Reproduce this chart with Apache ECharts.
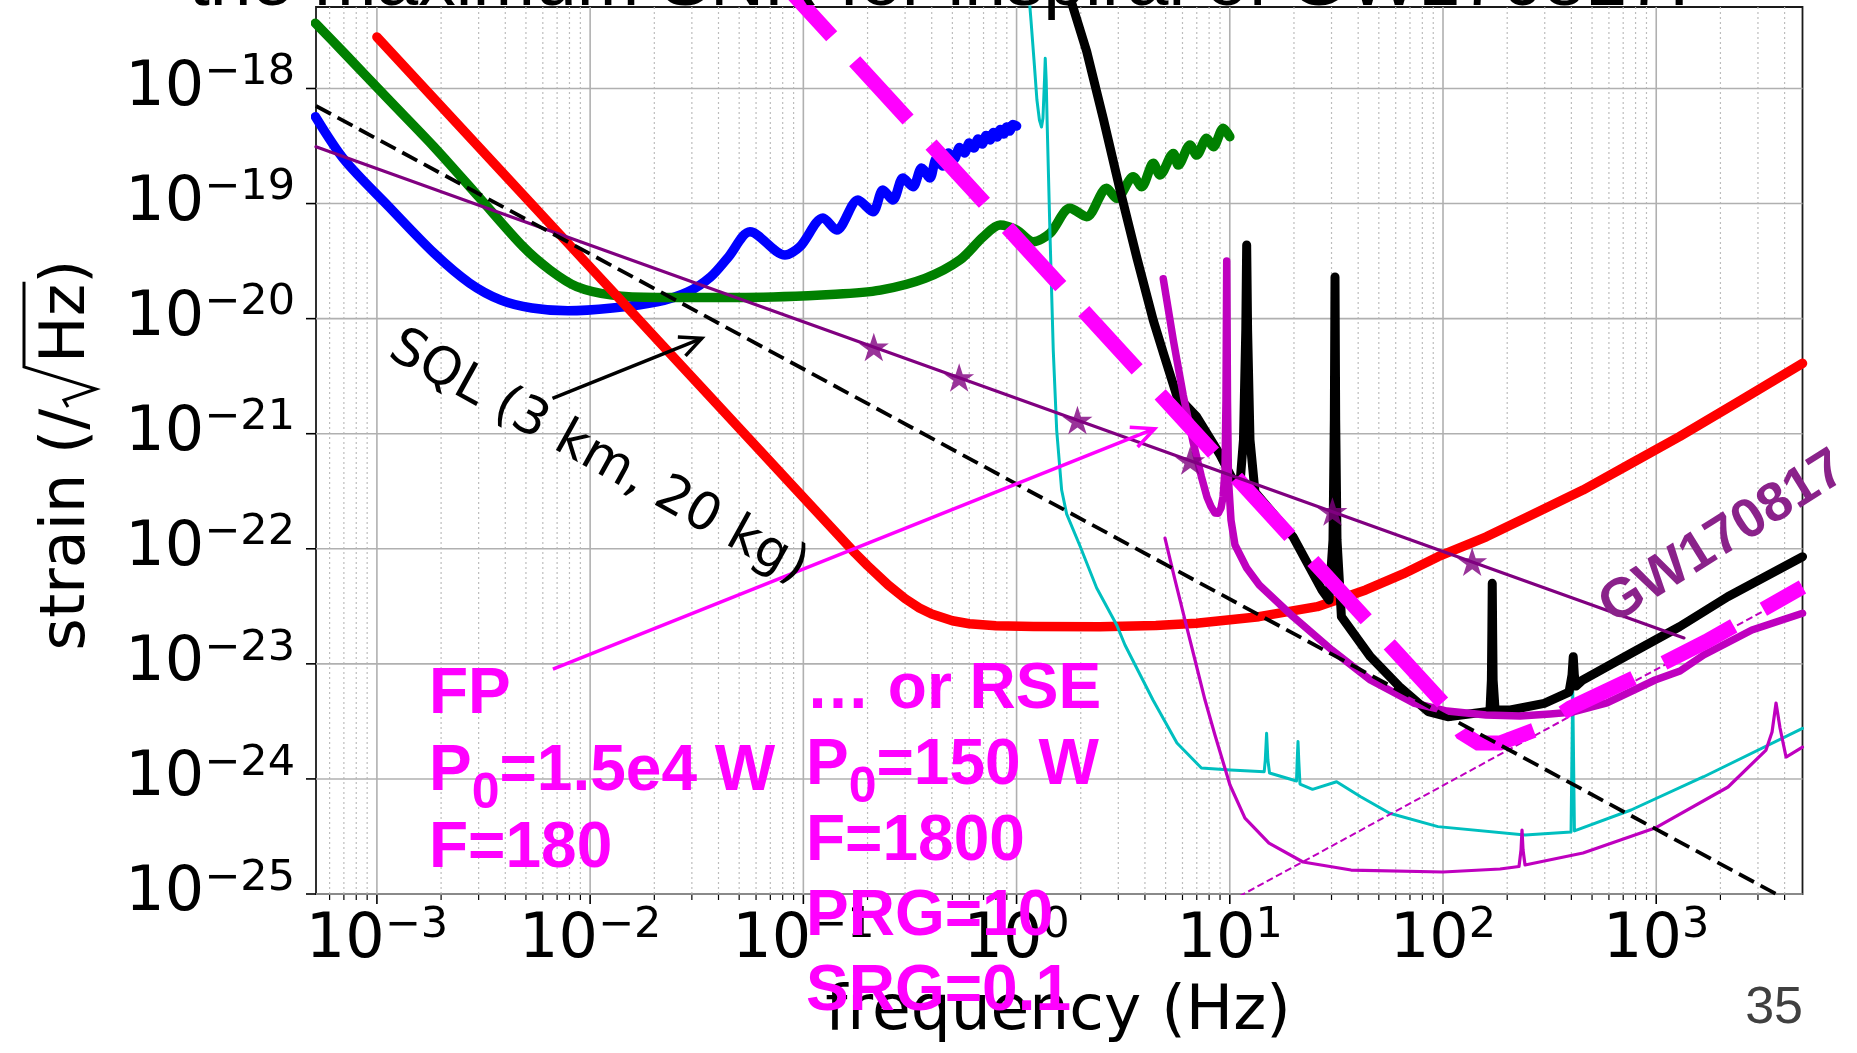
<!DOCTYPE html>
<html>
<head>
<meta charset="utf-8">
<script src="https://cdn.jsdelivr.net/npm/echarts@6/dist/echarts.min.js"></script>
<style>
  html, body { margin: 0; padding: 0; background: #ffffff; }
  #chart { width: 1857px; height: 1053px; }
</style>
</head>
<body>
<div id="chart"></div>
<script>
// ---------------- axis ranges and ticks ----------------
const xRange = [5.18e-4, 4853];          // frequency (Hz)
const yRange = [1e-25, 5.108e-18];       // strain (/sqrt(Hz))
const xMajor = [1e-3, 1e-2, 1e-1, 1, 10, 100, 1000];
const yMajor = [1e-25, 1e-24, 1e-23, 1e-22, 1e-21, 1e-20, 1e-19, 1e-18];
const xDecades = [1e-4, 1e-3, 1e-2, 1e-1, 1, 10, 100, 1000];
const minorSteps = [2, 3, 4, 5, 6, 7, 8, 9];

// ---------------- noise curves ----------------
const blueF = [5.15e-4, 7.05e-4, 1.138e-3, 1.851e-3, 2.719e-3, 3.816e-3, 5.33e-3, 7.87e-3, 1.272e-2, 2.06e-2,
  2.875e-2, 3.675e-2, 4.46e-2, 5.62e-2, 8.20e-2, 9.64e-2, 0.1236, 0.1433, 0.1804, 0.2121,
  0.2362, 0.2632, 0.2932, 0.3267, 0.3588, 0.3925, 0.42, 0.45, 0.48, 0.51,
  0.54, 0.57, 0.60, 0.63, 0.66, 0.69, 0.72, 0.75, 0.78, 0.81,
  0.84, 0.87, 0.90, 0.93, 0.96, 1.0];
const blueH = [5.69e-19, 2.39e-19, 9.39e-20, 3.72e-20, 2.04e-20, 1.45e-20, 1.238e-20, 1.17e-20, 1.238e-20, 1.40e-20,
  1.71e-20, 2.31e-20, 3.45e-20, 5.69e-20, 3.57e-20, 4.22e-20, 7.49e-20, 5.89e-20, 1.074e-19, 8.49e-20,
  1.312e-19, 1.074e-19, 1.667e-19, 1.40e-19, 2.04e-19, 1.667e-19, 2.44e-19, 2.12e-19, 2.75e-19, 2.44e-19,
  3.07e-19, 2.75e-19, 3.36e-19, 3.04e-19, 3.64e-19, 3.29e-19, 3.90e-19, 3.57e-19, 4.15e-19, 3.79e-19,
  4.40e-19, 4.02e-19, 4.63e-19, 4.27e-19, 4.87e-19, 4.72e-19];

const greenF = [5.15e-4, 7.05e-4, 1.14e-3, 1.85e-3, 2.995e-3, 4.85e-3, 6.48e-3, 8.65e-3, 1.272e-2, 2.06e-2,
  5.38e-2, 0.1417, 0.2297, 0.372, 0.5426, 0.698, 0.836, 1.00, 1.198, 1.435,
  1.78, 2.132, 2.646, 2.948, 3.527, 3.862, 4.377, 4.706, 5.433, 5.734,
  6.508, 6.993, 7.79, 8.37, 9.32, 10.0];
const greenH = [3.69e-18, 2.02e-18, 7.94e-19, 3.12e-19, 1.15e-19, 4.22e-20, 2.65e-20, 1.90e-20, 1.60e-20, 1.53e-20,
  1.53e-20, 1.63e-20, 1.77e-20, 2.24e-20, 3.24e-20, 5.15e-20, 6.51e-20, 5.89e-20, 4.66e-20, 5.52e-20,
  9.10e-20, 7.69e-20, 1.36e-19, 1.11e-19, 1.71e-19, 1.40e-19, 2.24e-19, 1.77e-19, 2.73e-19, 2.16e-19,
  3.23e-19, 2.64e-19, 3.69e-19, 3.12e-19, 4.51e-19, 3.81e-19];

const redF = [1.0e-3, 1.85e-3, 3.81e-3, 7.13e-3, 1.27e-2, 2.06e-2, 3.34e-2, 9.38e-2, 0.1746, 0.2,
  0.25, 0.3, 0.35, 0.4, 0.5, 0.6, 0.8, 1.2, 2.46, 4.5,
  6.98, 13.7, 25.7, 43.4, 65, 94.8, 159.6, 250, 453, 750,
  1285, 2500, 4853];
const redH = [2.80e-18, 8.18e-19, 1.93e-19, 5.51e-20, 1.74e-20, 6.60e-21, 2.51e-21, 3.18e-22, 9.19e-23, 7.14e-23,
  4.84e-23, 3.69e-23, 3.06e-23, 2.71e-23, 2.37e-23, 2.23e-23, 2.14e-23, 2.11e-23, 2.10e-23, 2.15e-23,
  2.25e-23, 2.57e-23, 3.14e-23, 4.39e-23, 6.05e-23, 8.53e-23, 1.27e-22, 1.90e-22, 3.24e-22, 5.43e-22,
  9.42e-22, 1.96e-21, 4.09e-21];

const blackF = [1.737, 2.132, 2.551, 3.055, 3.659, 4.377, 4.913, 5.636, 6.987, 8.995,
  10.24, 11.16, 11.59, 11.885, 12.0, 12.12, 12.44, 13.13, 19.81, 27.07,
  29.2, 30.48, 30.92, 31.15, 31.38, 31.83, 33.38, 45.65, 62.44, 85.3,
  105.2, 159.6, 166.1, 168.6, 169.5, 170.2, 170.9, 171.8, 175.5, 207.1,
  298.4, 390, 402.7, 408.1, 413, 420.5, 452.6, 762.6, 1285, 2165, 4853];
const blackH = [7.18e-18, 2.10e-18, 5.47e-19, 1.318e-19, 3.43e-20, 9.67e-21, 4.83e-21, 2.15e-21, 1.406e-21, 6.57e-22,
  4.12e-22, 3.66e-22, 8.82e-22, 7.97e-21, 4.37e-20, 7.97e-21, 8.82e-22, 3.11e-22, 1.27e-22, 4.38e-23,
  3.59e-23, 1.19e-22, 1.315e-21, 2.30e-20, 1.315e-21, 1.19e-22, 2.57e-23, 1.153e-23, 6.33e-24, 3.84e-24,
  3.47e-24, 3.84e-24, 3.97e-24, 7.24e-24, 1.968e-23, 5.01e-23, 1.968e-23, 7.24e-24, 3.97e-24, 3.97e-24,
  4.54e-24, 5.69e-24, 8.0e-24, 1.153e-23, 8.0e-24, 6.42e-24, 7.24e-24, 1.235e-23, 2.10e-23, 3.83e-23, 8.53e-23];

const cyanF = [1.143, 1.168, 1.207, 1.246, 1.280, 1.309, 1.330, 1.352, 1.363, 1.377,
  1.392, 1.435, 1.486, 1.542, 1.627, 1.718, 1.984, 2.375, 2.948, 3.224,
  4.363, 5.652, 7.359, 10.07, 14.5, 14.67, 14.88, 15.09, 15.36, 20.55,
  20.71, 20.89, 21.06, 21.34, 24.43, 31.69, 41.11, 56.23, 94.7, 242.5,
  398.5, 405.9, 413.4, 761.7, 1669, 4853];
const cyanH = [6.49e-18, 3.94e-18, 1.77e-18, 7.94e-19, 5.32e-19, 4.63e-19, 5.54e-19, 1.186e-18, 1.83e-18, 1.186e-18,
  4.82e-19, 5.33e-20, 5.34e-21, 1.077e-21, 3.24e-22, 2.00e-22, 1.057e-22, 4.56e-23, 2.18e-23, 1.459e-23,
  4.85e-24, 2.05e-24, 1.245e-24, 1.195e-24, 1.155e-24, 1.46e-24, 2.49e-24, 1.46e-24, 1.125e-24, 9.59e-25,
  1.46e-24, 2.11e-24, 1.46e-24, 9.03e-25, 8.12e-25, 9.46e-25, 7.01e-25, 5.03e-25, 3.85e-25, 3.26e-25,
  3.46e-25, 5.93e-24, 3.53e-25, 5.37e-25, 1.045e-24, 2.75e-24];

const kagraF = [4.876, 5.433, 6.052, 6.743, 7.359, 7.816, 8.163, 8.52, 8.83, 9.094,
  9.302, 9.495, 9.598, 9.672, 9.754, 9.86, 10.13, 10.58, 12.0, 13.75,
  19.81, 30.09, 45.65, 72.8, 104.4, 159.1, 229.7, 317.7, 407.3, 587.7,
  987.2, 1293, 1669, 2811, 4853];
const kagraH = [2.22e-20, 6.52e-21, 2.15e-21, 8.32e-22, 4.23e-22, 2.82e-22, 2.33e-22, 2.05e-22, 2.04e-22, 2.26e-22,
  2.84e-22, 4.84e-22, 1.963e-21, 3.17e-20, 1.963e-21, 3.96e-22, 1.778e-22, 1.078e-22, 6.81e-23, 4.84e-23,
  2.57e-23, 1.319e-23, 7.24e-24, 4.57e-24, 3.89e-24, 3.59e-24, 3.52e-24, 3.67e-24, 3.82e-24, 4.57e-24,
  7.24e-24, 8.67e-24, 1.194e-23, 1.968e-23, 2.75e-23];

const lowF = [4.966, 5.534, 6.165, 6.868, 7.651, 8.52, 10.02, 11.78, 15.27, 22.04,
  37.03, 100, 185.1, 227.2, 232.2, 234.7, 237.3, 242.5, 453.7, 987.2,
  2172, 3273, 3493, 3647, 3807, 4063, 4853];
const lowH = [1.24e-22, 5.36e-23, 2.40e-23, 1.08e-23, 4.85e-24, 2.41e-24, 8.85e-25, 4.57e-25, 2.77e-25, 1.897e-25,
  1.615e-25, 1.553e-25, 1.649e-25, 1.733e-25, 2.41e-25, 3.60e-25, 2.41e-25, 1.787e-25, 2.27e-25, 3.74e-25,
  8.51e-25, 1.78e-24, 2.56e-24, 4.57e-24, 2.77e-24, 1.55e-24, 1.89e-24];

const rseF = [0.07631, 100, 122.8, 146.0, 185.1, 285.1, 394.2, 839.5, 1713, 4853];
const rseH = [9.13e-18, 4.57e-24, 2.51e-24, 2.05e-24, 2.05e-24, 2.77e-24, 4.13e-24, 8.0e-24, 1.563e-23, 4.65e-23];

const slopeF = [10, 4853];
const slopeH = [8.6e-26, 4.4e-23];

const sqlF = [5.18e-4, 3650];
const sqlH = [7.05e-19, 1.0e-25];

const gwF = [5.18e-4, 1349];
const gwH = [3.12e-19, 1.68e-23];
const gwStarF = [0.214, 0.538, 1.93, 6.52, 30.3, 137];
const gwStarH = [5.68e-21, 3.08e-21, 1.315e-21, 5.85e-22, 2.11e-22, 7.73e-23];

// annotation arrows: [fromF, fromH, toF, toH]
const fpArrow = [6.69e-3, 9.02e-24, 4.443, 1.105e-21];
const sqlArrow = [6.66e-3, 2.03e-21, 3.34e-2, 6.75e-21];

// ---------------- helpers ----------------
const pairs = (fs, hs) => fs.map((f, i) => [f, hs[i]]);

function curve(fs, hs, color, width, extra) {
  const s = {
    type: 'line', data: pairs(fs, hs), showSymbol: false, symbol: 'none', clip: true,
    silent: true, animation: false, z: 3,
    lineStyle: { color: color, width: width, cap: 'round', join: 'round' },
    itemStyle: { color: color }
  };
  if (extra) {
    if (extra.lineStyle) Object.assign(s.lineStyle, extra.lineStyle);
    ['z', 'smooth'].forEach(k => { if (extra[k] !== undefined) s[k] = extra[k]; });
  }
  return s;
}

function powerText(v) {
  const e = Math.log10(v);
  const r = Math.round(e);
  if (Math.abs(e - r) > 1e-6) return '';
  return '{m|10}{e|' + (r < 0 ? '\u2212' : '') + Math.abs(r) + '}';
}
const labelRich = {
  m: { fontFamily: 'DejaVu Sans', fontSize: 62, lineHeight: 74, color: '#000', fill: '#000' },
  e: { fontFamily: 'DejaVu Sans', fontSize: 43, color: '#000', fill: '#000', verticalAlign: 'top' }
};

const minorX = [];
xDecades.forEach(d => minorSteps.forEach(m => {
  const v = d * m;
  if (v > xRange[0] && v < xRange[1]) minorX.push(v);
}));

function vGrid(major) {
  return function (params, api) {
    const v = api.value(0);
    const a = api.coord([v, yRange[1]]);
    const b = api.coord([v, yRange[0]]);
    return {
      type: 'group', children: [
        { type: 'line', shape: { x1: a[0], y1: a[1], x2: b[0], y2: b[1] },
          style: { stroke: major ? '#b0b0b0' : '#bdbdbd', lineWidth: major ? 1.6 : 1.2, lineDash: major ? null : [2, 3] } },
        { type: 'line', shape: { x1: b[0], y1: b[1], x2: b[0], y2: b[1] + (major ? 10 : 6) },
          style: { stroke: '#000', lineWidth: major ? 1.6 : 1.2 } }
      ]
    };
  };
}
// horizontal decade lines, left ticks and the power-of-ten labels
function hGrid(params, api) {
  const v = api.value(1);
  const a = api.coord([xRange[0], v]);
  const b = api.coord([xRange[1], v]);
  return {
    type: 'group', children: [
      { type: 'line', shape: { x1: a[0], y1: a[1], x2: b[0], y2: b[1] }, style: { stroke: '#b0b0b0', lineWidth: 1.6 } },
      { type: 'line', shape: { x1: a[0] - 10, y1: a[1], x2: a[0], y2: a[1] }, style: { stroke: '#000', lineWidth: 1.6 } },
      { type: 'text', x: a[0] - 21, y: a[1],
        style: { text: powerText(v), rich: labelRich, align: 'right', verticalAlign: 'middle', fill: '#000' } }
    ]
  };
}
function arrowRender(color, width, headLen) {
  return function (params, api) {
    const p0 = api.coord([api.value(0), api.value(1)]);
    const p1 = api.coord([api.value(2), api.value(3)]);
    const ang = Math.atan2(p1[1] - p0[1], p1[0] - p0[0]);
    const a1 = ang + Math.PI - 0.44, a2 = ang + Math.PI + 0.44;
    return {
      type: 'group', children: [
        { type: 'line', shape: { x1: p0[0], y1: p0[1], x2: p1[0], y2: p1[1] }, style: { stroke: color, lineWidth: width } },
        { type: 'polyline', shape: { points: [
            [p1[0] + headLen * Math.cos(a1), p1[1] + headLen * Math.sin(a1)], [p1[0], p1[1]],
            [p1[0] + headLen * Math.cos(a2), p1[1] + headLen * Math.sin(a2)]] },
          style: { stroke: color, lineWidth: width, fill: null, lineJoin: 'miter' } }
      ]
    };
  };
}

const starPath = 'path://M0,-100L22.45,-30.9L95.1,-30.9L36.33,11.8L58.8,80.9L0,38.2L-58.8,80.9L-36.33,11.8L-95.1,-30.9L-22.45,-30.9Z';

// ---------------- chart ----------------
const chart = echarts.init(document.getElementById('chart'), null, { renderer: 'canvas', width: 1857, height: 1053 });

const axisCommon = {
  type: 'log', logBase: 10,
  axisLine: { show: false }, axisTick: { show: false }, splitLine: { show: false },
  minorTick: { show: false }, minorSplitLine: { show: false }
};

const option = {
  backgroundColor: '#ffffff',
  animation: false,
  grid: { left: 316, right: 54.5, top: 7, bottom: 159, show: true, borderColor: '#1a1a1a', borderWidth: 1.8,
    backgroundColor: 'transparent', containLabel: false, outerBoundsMode: 'none' },
  xAxis: Object.assign({}, axisCommon, { min: xRange[0], max: xRange[1],
    axisLabel: { formatter: powerText, rich: labelRich, color: '#000', margin: 10 } }),
  yAxis: Object.assign({}, axisCommon, { min: yRange[0], max: yRange[1], axisLabel: { show: false } }),
  series: [
    { type: 'custom', renderItem: vGrid(false), data: minorX.map(v => [v, yRange[0]]), clip: false, silent: true, z: 1 },
    { type: 'custom', renderItem: vGrid(true), data: xMajor.map(v => [v, yRange[0]]), clip: false, silent: true, z: 1 },
    { type: 'custom', renderItem: hGrid, data: yMajor.map(v => [xRange[0], v]), clip: false, silent: true, z: 1 },

    curve(blueF, blueH, '#0000ff', 9.5, { smooth: 0.3 }),
    curve(greenF, greenH, '#008000', 9.5, { smooth: 0.3 }),
    curve(redF, redH, '#ff0000', 9.5),
    curve(cyanF, cyanH, '#00bfbf', 3),
    curve(blackF, blackH, '#000000', 9, { z: 4 }),
    curve(kagraF, kagraH, '#bf00bf', 7.5, { z: 4 }),
    curve(lowF, lowH, '#bf00bf', 3.2, { z: 4 }),
    curve(slopeF, slopeH, '#bf00bf', 2, { z: 4, lineStyle: { type: [7, 3.5], cap: 'butt' } }),
    curve(rseF, rseH, '#ff00ff', 15, { z: 5, lineStyle: { type: [79, 34], cap: 'butt', join: 'miter' } }),
    curve(gwF, gwH, '#800080', 3.2, { z: 6 }),
    { type: 'scatter', data: pairs(gwStarF, gwStarH), symbol: starPath, symbolSize: 30, symbolKeepAspect: true,
      itemStyle: { color: '#800080' }, silent: true, z: 6 },
    curve(sqlF, sqlH, '#000000', 3.8, { z: 6, lineStyle: { type: [17, 7.5], cap: 'butt' } }),
    { type: 'custom', renderItem: arrowRender('#ff00ff', 3.5, 25), data: [fpArrow],
      encode: { x: [0, 2], y: [1, 3] }, clip: false, silent: true, z: 7 },
    { type: 'custom', renderItem: arrowRender('#000000', 3.5, 24), data: [sqlArrow],
      encode: { x: [0, 2], y: [1, 3] }, clip: false, silent: true, z: 7 }
  ]
};
chart.setOption(option);

// ---------------- text annotations ----------------
const mctx = document.createElement('canvas').getContext('2d');
function textWidth(str, font) { mctx.font = font; return mctx.measureText(str).width; }
const MID = 0.35; // distance from alphabetic baseline to the middle baseline, in em

function textAt(str, x, baseline, size, font, color, align) {
  return { type: 'text', x: x, y: baseline - MID * size, z: 100,
    style: { text: str, font: font, fill: color, align: align || 'left', verticalAlign: 'middle',
      textAlign: align || 'left', textVerticalAlign: 'middle' } };
}

// one line of bold text in which some runs are set as subscripts
function runLine(parts, x, baseline, color) {
  const size = 64, subSize = 50, drop = 17;
  const out = [];
  let cx = x;
  parts.forEach(p => {
    const sub = p[1];
    const fs = sub ? subSize : size;
    const font = 'bold ' + fs + 'px "Liberation Sans", Arial, sans-serif';
    out.push(textAt(p[0], cx, baseline + (sub ? drop : 0), fs, font, color));
    cx += textWidth(p[0], font);
  });
  return out;
}

const magenta = '#ff00ff';
const fpLines = [
  [['FP', false]],
  [['P', false], ['0', true], ['=1.5e4 W', false]],
  [['F=180', false]]
];
const rseLines = [
  [['\u2026 or RSE', false]],
  [['P', false], ['0', true], ['=150 W', false]],
  [['F=1800', false]],
  [['PRG=10', false]],
  [['SRG=0.1', false]]
];
const fpBaselines = [718, 795, 872];
const rseBaselines = [713, 789, 865, 940, 1015];

const graphics = [];

// title line along the top edge
graphics.push(textAt('the maximum SNR for inspiral of GW170817.', 189, 10.5, 75,
  '75px "Liberation Sans", Arial, sans-serif', '#000'));

// axis titles
const labFont = '62px "DejaVu Sans", sans-serif';
graphics.push(Object.assign(textAt('frequency (Hz)', 1058, 1035, 63, '63px "DejaVu Sans", sans-serif', '#000', 'center'), { z: 90 }));

// rotated y label with a drawn radical over Hz
(function () {
  const s1 = 'strain (/', s2 = 'Hz', s3 = ')';
  const w1 = textWidth(s1, labFont), w2 = textWidth(s2, labFont);
  const w3 = textWidth(s3, labFont);
  const rad = 46;
  const total = w1 + rad + w2 + w3;
  const x0 = -total / 2;
  const xr = x0 + w1, xh = xr + rad, xp = xh + w2;
  const children = [
    textAt(s1, x0, 0, 62, labFont, '#000'),
    textAt(s2, xh, 0, 62, labFont, '#000'),
    textAt(s3, xp, 0, 62, labFont, '#000'),
    { type: 'polyline', z: 100, shape: { points: [[xr + 2, -22], [xr + 9, -26], [xr + 20, 6], [xr + 42, -66], [xp + 2, -66]] },
      style: { stroke: '#000', lineWidth: 3, fill: null, lineJoin: 'miter' } }
  ];
  graphics.push({ type: 'group', x: 90, y: 455, rotation: Math.PI / 2, z: 100, children: children });
})();

// SQL label
graphics.push({ type: 'text', x: 598, y: 458, rotation: -29 * Math.PI / 180, z: 100,
  style: { text: 'SQL (3 km, 20 kg)', font: '52px "DejaVu Sans", sans-serif', fill: '#000',
    align: 'center', verticalAlign: 'middle', textAlign: 'center', textVerticalAlign: 'middle' } });

// GW170817 label along the inspiral line
graphics.push({ type: 'text', x: 1723, y: 538, rotation: 32 * Math.PI / 180, z: 100,
  style: { text: 'GW170817', font: 'bold 55px "Liberation Sans", Arial, sans-serif', fill: '#8a228a',
    align: 'center', verticalAlign: 'middle', textAlign: 'center', textVerticalAlign: 'middle' } });

// interferometer parameter blocks
fpLines.forEach((ln, i) => runLine(ln, 429, fpBaselines[i], magenta).forEach(g => graphics.push(g)));
rseLines.forEach((ln, i) => runLine(ln, 806, rseBaselines[i], magenta).forEach(g => graphics.push(g)));

// page number
graphics.push(textAt('35', 1803, 1027, 52, '52px "Liberation Sans", Arial, sans-serif', '#404040', 'right'));

chart.setOption({ graphic: { elements: graphics } });
</script>
</body>
</html>
